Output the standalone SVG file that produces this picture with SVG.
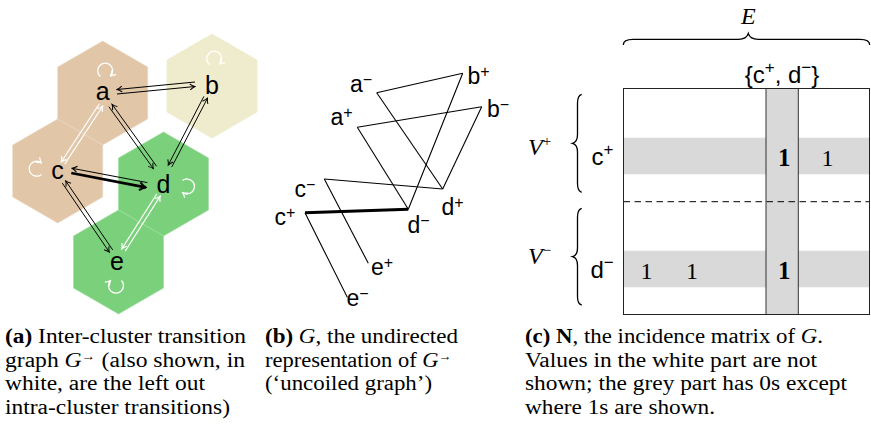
<svg xmlns="http://www.w3.org/2000/svg" width="871" height="430" viewBox="0 0 871 430">
<style>
.tan{fill:#e1c6a8;stroke:#ead8c6;stroke-width:0.6}
.yel{fill:#efebcd;stroke:#efebcd;stroke-width:0.6}
.grn{fill:#7bd17b;stroke:#9ddd9d;stroke-width:0.6}
.nl{font-family:"Liberation Sans",Arial,sans-serif;font-size:25px;fill:#000;text-anchor:middle}
.lb{font-family:"Liberation Sans",Arial,sans-serif;font-size:23px;fill:#000}
.lc{font-family:"Liberation Sans",Arial,sans-serif;font-size:24px;fill:#000}
.sup{font-size:16px}
.e{fill:none;stroke:#000;stroke-width:1}
.ew{fill:none;stroke:#fff;stroke-width:1.3}
.ub{fill:none;stroke:#000;stroke-width:1.1}
.cap{font-family:"Liberation Serif","Times New Roman",serif;font-size:20px;fill:#000}
.ser{font-family:"Liberation Serif","Times New Roman",serif;fill:#000}
.num{font-family:"Liberation Serif","Times New Roman",serif;font-size:24px;fill:#000;text-anchor:middle}
.numb{font-family:"Liberation Serif","Times New Roman",serif;font-size:25px;font-weight:bold;fill:#000;text-anchor:middle}
.mi{font-family:"Liberation Serif","Times New Roman",serif;font-size:24px;font-style:italic;fill:#000}
.msup{font-size:15px;font-style:normal}
.brace{fill:none;stroke:#000;stroke-width:1.3}
.grey{fill:#d9d9d9}
</style>
<defs>
<marker id="ah" viewBox="-6 -4 7 8" refX="0" refY="0" markerWidth="7" markerHeight="8" orient="auto" markerUnits="userSpaceOnUse">
<path d="M-5,-3 Q-2,-0.6 0,0 Q-2,0.6 -5,3" fill="none" stroke="#000" stroke-width="1"/>
</marker>
<marker id="ahw" viewBox="-6 -4 7 8" refX="0" refY="0" markerWidth="7" markerHeight="8" orient="auto" markerUnits="userSpaceOnUse">
<path d="M-5,-3 Q-2,-0.6 0,0 Q-2,0.6 -5,3" fill="none" stroke="#fff" stroke-width="1.2"/>
</marker>
<marker id="aht" viewBox="-8 -5 9 10" refX="0" refY="0" markerWidth="9" markerHeight="10" orient="auto" markerUnits="userSpaceOnUse">
<path d="M-6,-4 Q-2.5,-0.8 0,0 Q-2.5,0.8 -6,4" fill="none" stroke="#000" stroke-width="2"/>
</marker>
</defs>

<!-- Panel (a): clusters / nodes -->
<g id="node-a">
<polygon class="tan" points="102.7,41 147.7,67 147.7,119 102.7,145 57.7,119 57.7,67"/>
<text class="nl" x="102.7" y="100">a</text>
</g>
<g id="node-c">
<polygon class="tan" points="57.7,119 102.7,145 102.7,197 57.7,223 12.7,197 12.7,145"/>
<text class="nl" x="57.5" y="178.5">c</text>
</g>
<g id="node-b">
<polygon class="yel" points="212,34 257,60 257,112 212,138 167,112 167,60"/>
<text class="nl" x="212" y="93.5">b</text>
</g>
<g id="node-d">
<polygon class="grn" points="163.5,132 208.5,158 208.5,210 163.5,236 118.5,210 118.5,158"/>
<text class="nl" x="163.5" y="192.5">d</text>
</g>
<g id="node-e">
<polygon class="grn" points="118.5,210 163.5,236 163.5,288 118.5,314 73.5,288 73.5,236"/>
<text class="nl" x="117" y="270">e</text>
</g>

<g id="connectors-a">
<!-- a <-> b -->
<path class="e" d="M117,94 L195,86.5" marker-end="url(#ah)"/>
<path class="e" d="M195,82 L117,89.5" marker-end="url(#ah)"/>
<!-- a <-> d -->
<path class="e" d="M108.9,106.7 L153.4,168.7" marker-end="url(#ah)"/>
<path class="e" d="M156.6,166.3 L112.1,104.3" marker-end="url(#ah)"/>
<!-- b <-> d -->
<path class="e" d="M203.9,96.4 L168.2,165.1" marker-end="url(#ah)"/>
<path class="e" d="M171.8,166.9 L207.5,98.2" marker-end="url(#ah)"/>
<!-- c <-> d (c -> d bold) -->
<path class="e" style="stroke-width:2.8" d="M71.3,173 L145.6,187.4" marker-end="url(#aht)"/>
<path class="e" d="M147.4,182.6 L72.1,168.3" marker-end="url(#ah)"/>
<!-- c <-> e -->
<path class="e" d="M62.3,183.1 L109.3,252.1" marker-end="url(#ah)"/>
<path class="e" d="M112.7,249.9 L65.7,180.9" marker-end="url(#ah)"/>
<!-- a <-> c (white, intra-cluster) -->
<path class="ew" style="stroke-width:1.1" d="M99.3,103.9 L61.3,161.9" marker-end="url(#ahw)"/>
<path class="ew" style="stroke-width:1.1" d="M64.7,164.1 L102.7,106.1" marker-end="url(#ahw)"/>
<!-- d <-> e (white, intra-cluster) -->
<path class="ew" style="stroke-width:1.1" d="M156.8,193.9 L121.8,248.9" marker-end="url(#ahw)"/>
<path class="ew" style="stroke-width:1.1" d="M125.2,251.1 L160.2,196.1" marker-end="url(#ahw)"/>
<!-- self loops (white) -->
<path class="ew" d="M100.5,76.5 A7.5,7.5 0 1 1 110.5,76" marker-end="url(#ahw)"/>
<path class="ew" d="M209.5,64.5 A7.5,7.5 0 1 1 219.5,64" marker-end="url(#ahw)"/>
<path class="ew" d="M41.5,174.5 A7.5,7.5 0 1 1 41.5,163" marker-end="url(#ahw)"/>
<path class="ew" d="M182.5,180.5 A7.5,7.5 0 1 1 182.5,192.5" marker-end="url(#ahw)"/>
<path class="ew" d="M121.5,280.5 A7.5,7.5 0 1 1 110.5,280.5" marker-end="url(#ahw)"/>
</g>

<!-- Panel (b): uncoiled graph -->
<g id="node-am"><text class="lb" x="350" y="92">a<tspan class="sup" dy="-7">−</tspan></text></g>
<g id="node-bp"><text class="lb" x="467.5" y="84">b<tspan class="sup" dy="-7">+</tspan></text></g>
<g id="node-bm"><text class="lb" x="487" y="117">b<tspan class="sup" dy="-7">−</tspan></text></g>
<g id="node-ap"><text class="lb" x="330.5" y="125">a<tspan class="sup" dy="-7">+</tspan></text></g>
<g id="node-cm"><text class="lb" x="294.5" y="197">c<tspan class="sup" dy="-7">−</tspan></text></g>
<g id="node-cp"><text class="lb" x="274.5" y="225">c<tspan class="sup" dy="-7">+</tspan></text></g>
<g id="node-dp"><text class="lb" x="441.5" y="215">d<tspan class="sup" dy="-7">+</tspan></text></g>
<g id="node-dm"><text class="lb" x="407.5" y="233">d<tspan class="sup" dy="-7">−</tspan></text></g>
<g id="node-ep"><text class="lb" x="371" y="275">e<tspan class="sup" dy="-7">+</tspan></text></g>
<g id="node-em"><text class="lb" x="346.5" y="306">e<tspan class="sup" dy="-7">−</tspan></text></g>

<g id="connectors-b">
<path class="ub" d="M376.7,92.7 L462.7,73.3"/>
<path class="ub" d="M376.7,92.7 L442.7,189"/>
<path class="ub" d="M357.3,127.3 L481.7,106.7"/>
<path class="ub" d="M357.3,127.3 L408.3,209.3"/>
<path class="ub" d="M462.7,73.3 L408.3,209.3"/>
<path class="ub" d="M481.7,106.7 L442.7,189"/>
<path class="ub" d="M324.3,179 L442.7,189"/>
<path class="ub" style="stroke-width:3" d="M305,212.7 L408.3,209.3"/>
<path class="ub" d="M324.3,179 L368.3,263.3"/>
<path class="ub" d="M305,212.7 L347.3,297.3"/>
</g>

<!-- Panel (c): incidence matrix -->
<rect class="grey" x="623.5" y="137.7" width="246" height="36.6"/>
<rect class="grey" x="623.5" y="250.7" width="246" height="36.6"/>
<rect class="grey" x="766" y="88.5" width="32.3" height="226" stroke="#333" stroke-width="1"/>
<line x1="623.5" y1="201.7" x2="869.5" y2="201.7" stroke="#000" stroke-width="1" stroke-dasharray="6.5,4.5"/>
<rect x="623.5" y="88.5" width="246" height="226" fill="none" stroke="#222" stroke-width="1"/>

<text class="numb" x="784.2" y="166">1</text>
<text class="num" x="827.5" y="166">1</text>
<text class="num" x="646.5" y="278.5">1</text>
<text class="num" x="692" y="278.5">1</text>
<text class="numb" x="784.2" y="278.5">1</text>

<text class="lc" x="591.5" y="165">c<tspan font-size="17" dy="-10">+</tspan></text>
<text class="lc" x="590.5" y="278.3">d<tspan font-size="17" dy="-10">−</tspan></text>
<text class="lc" x="782" y="83.3" text-anchor="middle">{c<tspan font-size="17" dy="-10">+</tspan><tspan dy="10">, d</tspan><tspan font-size="17" dy="-10">−</tspan><tspan dy="10">}</tspan></text>

<text class="mi" x="748.3" y="24" text-anchor="middle">E</text>
<text class="mi" x="528" y="154.5">V<tspan class="msup" dy="-9">+</tspan></text>
<text class="mi" x="528" y="264">V<tspan class="msup" dy="-9">−</tspan></text>

<path class="brace" d="M623.3,45 Q623.3,39.3 633,39.3 L738.5,39.3 Q746.5,39.3 748.3,33.5 Q750.1,39.3 758.1,39.3 L860,39.3 Q869.7,39.3 869.7,45"/>
<path class="brace" d="M581.7,94.3 Q577.5,95.5 577.5,103 L577.5,134.5 Q577.5,142 572.5,143.3 Q577.5,144.6 577.5,152 L577.5,183.5 Q577.5,191 581.7,192.3"/>
<path class="brace" d="M581.7,208.3 Q577.5,209.5 577.5,217 L577.5,248 Q577.5,255.4 572.5,256.7 Q577.5,258 577.5,265.4 L577.5,296.5 Q577.5,304 581.7,305"/>

<!-- Captions -->
<text class="cap" x="5" y="343" textLength="241" lengthAdjust="spacingAndGlyphs"><tspan font-weight="bold">(a)</tspan> Inter-cluster transition</text>
<text class="cap" x="5" y="366.5" textLength="240" lengthAdjust="spacingAndGlyphs">graph <tspan font-style="italic">G</tspan><tspan font-size="12" dy="-7">→</tspan><tspan dy="7">  (also shown, in</tspan></text>
<text class="cap" x="5" y="390" textLength="200" lengthAdjust="spacingAndGlyphs">white, are the left out</text>
<text class="cap" x="5" y="413.5" textLength="225" lengthAdjust="spacingAndGlyphs">intra-cluster transitions)</text>

<text class="cap" x="265" y="343" textLength="193" lengthAdjust="spacingAndGlyphs"><tspan font-weight="bold">(b)</tspan> <tspan font-style="italic">G</tspan>, the undirected</text>
<text class="cap" x="265" y="366.5" textLength="187" lengthAdjust="spacingAndGlyphs">representation of <tspan font-style="italic">G</tspan><tspan font-size="12" dy="-7">→</tspan></text>
<text class="cap" x="265" y="390" textLength="167" lengthAdjust="spacingAndGlyphs">(‘uncoiled graph’)</text>

<text class="cap" x="525" y="343" textLength="298" lengthAdjust="spacingAndGlyphs"><tspan font-weight="bold">(c) N</tspan>, the incidence matrix of <tspan font-style="italic">G</tspan>.</text>
<text class="cap" x="525" y="366.5" textLength="292" lengthAdjust="spacingAndGlyphs">Values in the white part are not</text>
<text class="cap" x="525" y="390" textLength="322" lengthAdjust="spacingAndGlyphs">shown; the grey part has 0s except</text>
<text class="cap" x="525" y="413.5" textLength="190" lengthAdjust="spacingAndGlyphs">where 1s are shown.</text>
</svg>
